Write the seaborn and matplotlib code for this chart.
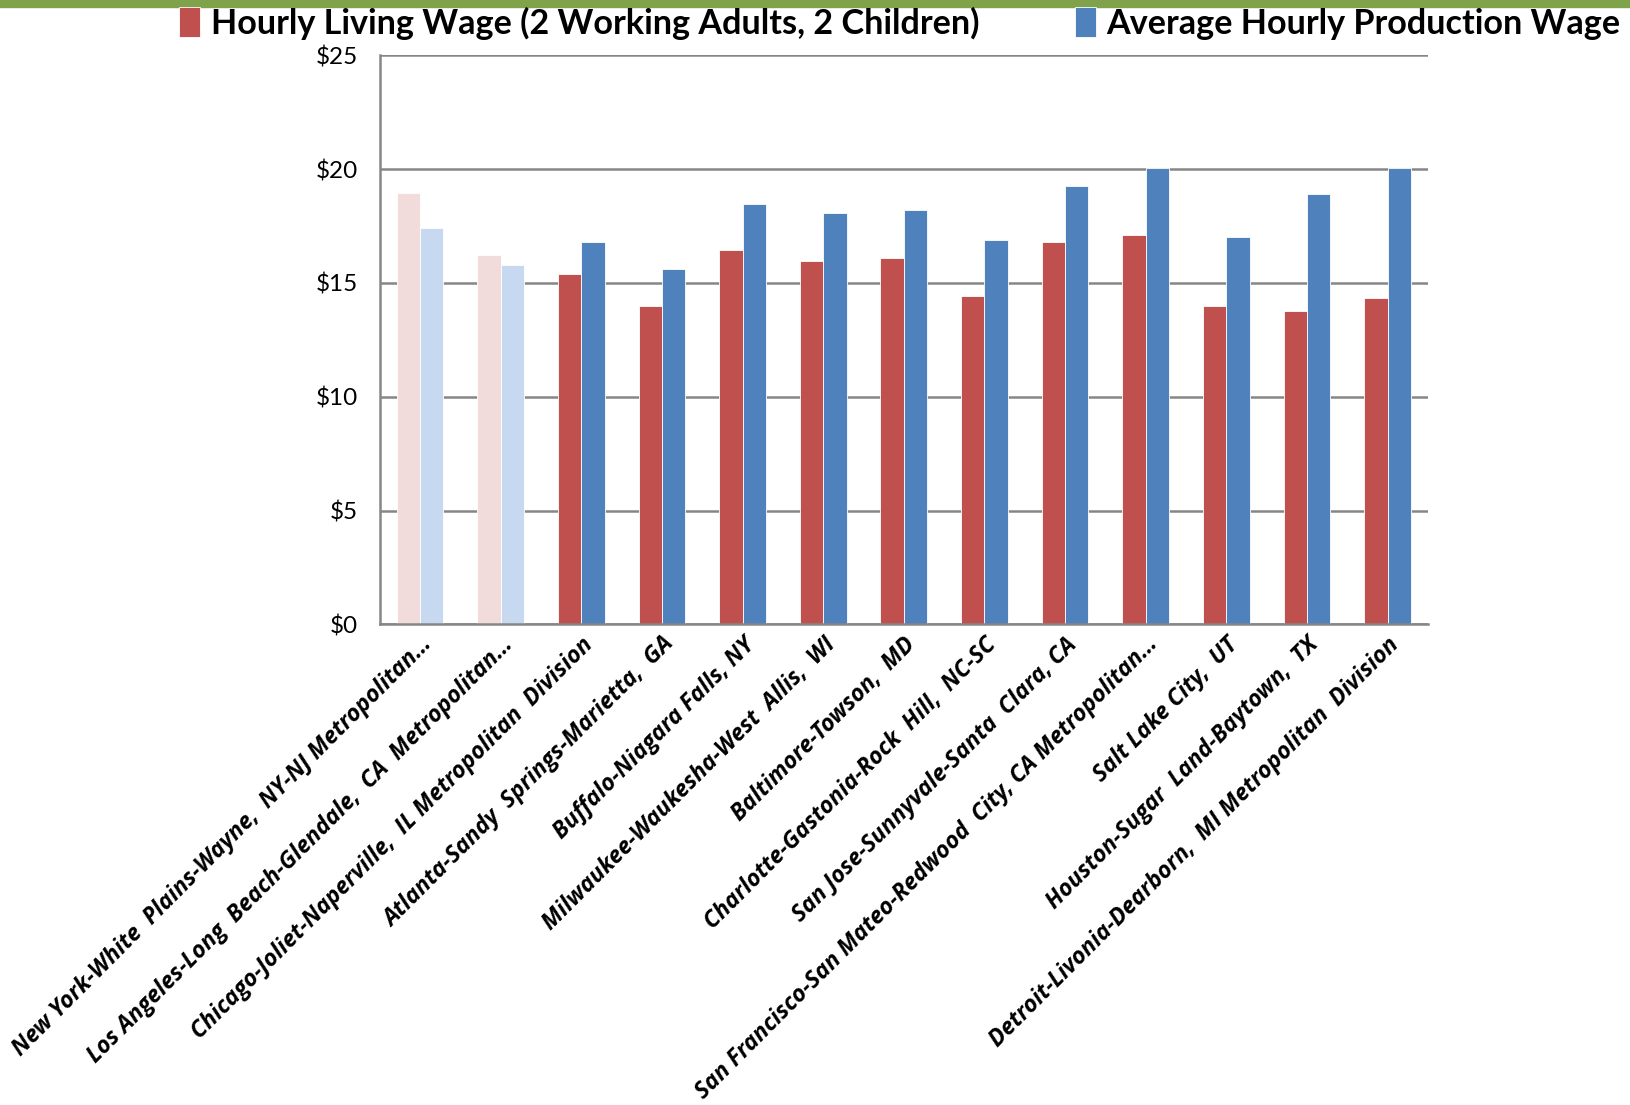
import numpy as np
import pandas as pd
import seaborn as sns
import matplotlib.pyplot as plt
from matplotlib.patches import Rectangle
from matplotlib.ticker import FuncFormatter, MultipleLocator

# Metro areas (labels as they appear, truncated ones included)
metros = [
    "New York-White  Plains-Wayne,  NY-NJ Metropolitan\u2026",
    "Los Angeles-Long  Beach-Glendale,  CA  Metropolitan\u2026",
    "Chicago-Joliet-Naperville,  IL Metropolitan  Division",
    "Atlanta-Sandy  Springs-Marietta,  GA",
    "Buffalo-Niagara Falls, NY",
    "Milwaukee-Waukesha-West  Allis,  WI",
    "Baltimore-Towson,  MD",
    "Charlotte-Gastonia-Rock  Hill,  NC-SC",
    "San Jose-Sunnyvale-Santa  Clara, CA",
    "San Francisco-San Mateo-Redwood  City, CA Metropolitan\u2026",
    "Salt Lake City,  UT",
    "Houston-Sugar  Land-Baytown,  TX",
    "Detroit-Livonia-Dearborn,  MI Metropolitan  Division",
]

living_wage = [18.93, 16.22, 15.40, 13.98, 16.45, 15.98, 16.10, 14.43,
               16.80, 17.12, 13.98, 13.75, 14.32]
production_wage = [17.40, 15.77, 16.80, 15.63, 18.45, 18.08, 18.20, 16.90,
                   19.25, 20.05, 17.03, 18.90, 20.05]

series_names = ["Hourly Living Wage (2 Working Adults, 2 Children)",
                "Average Hourly Production Wage"]

df = pd.DataFrame({
    "metro": metros * 2,
    "wage": living_wage + production_wage,
    "series": [series_names[0]] * len(metros) + [series_names[1]] * len(metros),
})

sns.set_style("white")
plt.rcParams['font.family'] = ['Lato', 'DejaVu Sans']
plt.rcParams['text.color'] = 'black'
plt.rcParams['xtick.labelcolor'] = 'black'
plt.rcParams['ytick.labelcolor'] = 'black'

red = "#C0504D"
blue = "#4F81BD"
grid_gray = "#868686"

fig = plt.figure(figsize=(16.3, 11.05), dpi=100)
ax = fig.add_axes([0.233, 0.435, 0.643, 0.515])

sns.barplot(data=df, x="metro", y="wage", hue="series",
            palette=[red, blue], width=0.58, saturation=1,
            errorbar=None, ax=ax, edgecolor="white", linewidth=0.6)

# first two metros are shown faded
for i in [0, 1]:
    ax.containers[0][i].set_facecolor("#F2DCDB")
    ax.containers[1][i].set_facecolor("#C6D9F1")

ax.set_ylim(0, 25)
ax.set_xlim(-0.5, len(metros) - 0.5)
ax.yaxis.set_major_locator(MultipleLocator(5))
ax.yaxis.set_major_formatter(FuncFormatter(lambda v, p: f"${v:.0f}"))
ax.grid(axis="y", color=grid_gray, linewidth=1.8)
ax.set_axisbelow(True)

for s in ["top", "right"]:
    ax.spines[s].set_visible(False)
for s in ["left", "bottom"]:
    ax.spines[s].set_color(grid_gray)
    ax.spines[s].set_linewidth(1.8)

ax.set_xticks(np.arange(-0.5, len(metros), 1), minor=True)
ax.tick_params(axis="x", which="minor", length=6, width=1.8, color=grid_gray)
ax.tick_params(axis="x", which="major", length=0, pad=6)
ax.tick_params(axis="y", length=6, width=1.8, color=grid_gray, pad=10,
               labelsize=17.5)

ax.set_xticks(range(len(metros)))
ax.set_xticklabels(metros, rotation=45, ha="right", va="top",
                   rotation_mode="anchor", fontsize=16.7,
                   fontweight="bold", fontstyle="italic",
                   family=["Open Sans", "DejaVu Sans"])
ax.set_xlabel("")
ax.set_ylabel("")

handles, labels = ax.get_legend_handles_labels()
ax.legend_.remove()
fig.legend(handles, labels, loc="center", bbox_to_anchor=(0.552, 0.979),
           ncol=2, frameon=False, handlelength=0.62, handleheight=0.95,
           handletextpad=0.3, columnspacing=2.8, labelcolor="black",
           prop={"family": ["Lato", "DejaVu Sans"],
                 "weight": "bold", "size": 24.6})

# green strip at the very top
fig.patches.append(Rectangle((0, 0.994), 1, 0.006, transform=fig.transFigure,
                             color="#7FA24A", zorder=0))

fig.savefig("out.png", dpi=100)
